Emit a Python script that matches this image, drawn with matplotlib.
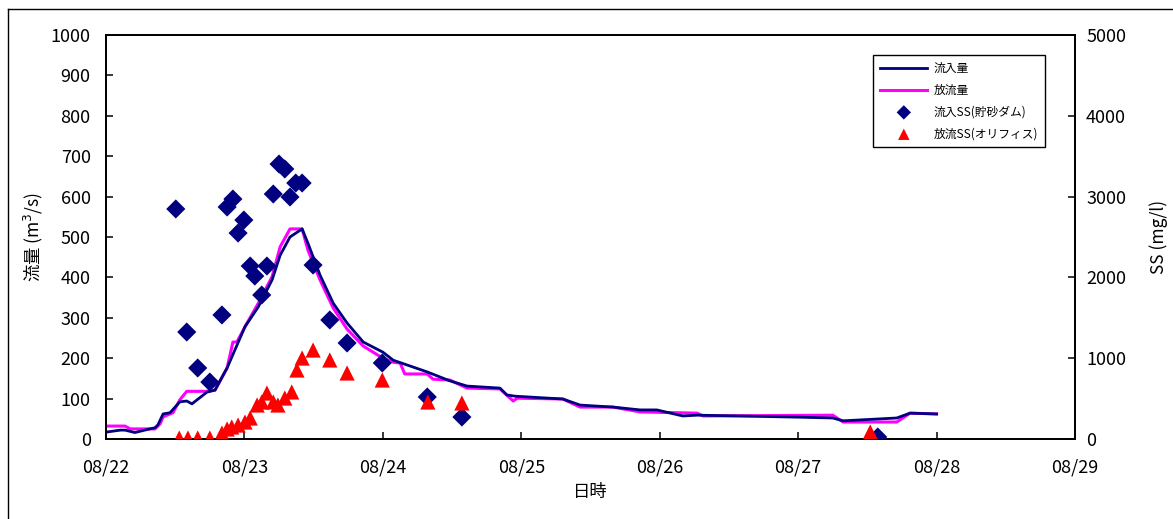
import matplotlib
matplotlib.use("Agg")
import matplotlib.pyplot as plt
from matplotlib.lines import Line2D
import numpy as np

plt.rcParams['font.family'] = ['Noto Sans CJK JP', 'DejaVu Sans']
plt.rcParams['mathtext.fontset'] = 'dejavusans'

# Date labels (x axis, one per day starting 08/22 00:00)
date_labels = ['08/22', '08/23', '08/24', '08/25', '08/26', '08/27', '08/28', '08/29']

# Inflow discharge (m3/s), hours after 08/22 00:00
inflow_hours = [0, 2.5, 3.3, 5.0, 7.6, 8.5, 9.0, 9.9, 11.1, 12.8, 14.0, 14.9, 17.5, 18.9,
                21.0, 22.7, 24.1, 26.4, 28.8, 30.2, 31.9, 34.0, 35.0, 37.1, 39.4, 41.8,
                44.6, 48.0, 49.8, 55.7, 59.6, 62.6, 68.3, 69.5, 70.9, 79.2, 82.2, 87.9,
                92.6, 95.5, 100.0, 102.5, 120.3, 126.0, 127.8, 137.1, 139.4, 144.0]
inflow_q = [17, 22, 22, 16, 25, 28, 35, 62, 65, 92, 94, 87, 116, 121,
            176, 232, 278, 327, 394, 455, 500, 520, 485, 406, 336, 287,
            240, 215, 195, 166, 144, 131, 126, 109, 106, 99, 84, 79,
            72, 72, 57, 59, 54, 52, 45, 52, 64, 62]

# Outflow discharge (m3/s)
outflow_hours = [0, 3.3, 4.2, 8.5, 9.4, 9.9, 11.6, 12.8, 14.0, 17.5, 18.9, 21.0, 22.0,
                 22.7, 24.1, 26.4, 28.8, 30.2, 31.9, 34.0, 35.0, 37.1, 39.4, 41.8, 44.6,
                 48.0, 49.8, 51.0, 51.8, 55.7, 56.7, 59.6, 62.6, 68.3, 70.6, 71.3, 79.2,
                 82.2, 87.9, 92.6, 102.5, 103.5, 126.0, 127.8, 137.1, 139.4, 144.0]
outflow_q = [32, 32, 25, 25, 38, 55, 65, 97, 118, 118, 121, 176, 240,
             240, 278, 336, 402, 476, 520, 520, 468, 394, 324, 272, 230,
             200, 190, 188, 161, 161, 148, 146, 126, 124, 94, 101, 99,
             79, 79, 67, 64, 57, 59, 42, 42, 64, 62]

# Inflow SS at the sediment dam (mg/l)
ss_in_hours = [12.1, 14.0, 15.9, 18.0, 20.1, 21.0, 22.0, 22.9, 23.9, 25.0, 25.8, 27.0,
               27.9, 29.0, 30.0, 31.0, 31.9, 32.9, 34.0, 35.9, 38.8, 41.8, 47.9, 55.7,
               61.7, 133.8]
ss_in = [2847, 1324, 879, 705, 1535, 2871, 2970, 2549, 2710, 2141, 2017, 1782,
         2141, 3032, 3403, 3342, 2995, 3168, 3168, 2153, 1473, 1188, 941, 520,
         272, 25]

# Outflow SS at the orifice (mg/l)
ss_out_hours = [12.7, 14.2, 15.9, 18.0, 20.1, 21.0, 21.8, 22.9, 24.1, 25.0, 26.2, 27.0,
                27.9, 29.0, 29.8, 31.0, 32.2, 33.1, 34.0, 35.9, 38.8, 41.8, 47.9, 55.8,
                61.7, 132.5]
ss_out = [12, 12, 12, 12, 74, 124, 149, 173, 210, 260, 421, 458,
          569, 458, 421, 507, 582, 854, 1002, 1101, 978, 817, 730, 458,
          446, 87]

fig = plt.figure(figsize=(11.73, 5.19), dpi=100)
ax = fig.add_axes([106 / 1173, 1 - 439 / 519, (1075 - 106) / 1173, (439 - 35) / 519])
ax2 = ax.twinx()

navy = '#000080'
magenta = '#FF00FF'

ln1, = ax.plot(np.array(inflow_hours) / 24, inflow_q, color=navy, lw=2.0, zorder=3)
ln2, = ax.plot(np.array(outflow_hours) / 24, outflow_q, color=magenta, lw=2.2, zorder=2)

sc1 = ax2.scatter(np.array(ss_in_hours) / 24, ss_in, marker='D', s=95, color=navy,
                  edgecolors='none', zorder=3)
sc2 = ax2.scatter(np.array(ss_out_hours) / 24, ss_out, marker='^', s=120, color='#FF0000',
                  edgecolors='none', zorder=4)

ax.set_xlim(0, 7)
ax.set_ylim(0, 1000)
ax2.set_ylim(0, 5000)
ax.set_xticks(range(len(date_labels)))
ax.set_xticklabels(date_labels)
ax.set_yticks(np.arange(0, 1001, 100))
ax2.set_yticks(np.arange(0, 5001, 1000))

for a in (ax, ax2):
    for s in a.spines.values():
        s.set_linewidth(1.3)
        s.set_color('black')

ax.tick_params(axis='x', direction='in', length=5, width=1.1, pad=14, labelsize=13)
ax.tick_params(axis='y', direction='in', length=5, width=1.1, pad=11, labelsize=13)
ax2.tick_params(axis='y', direction='in', length=5, width=1.1, pad=8, labelsize=13)

ax.set_xlabel('日時', fontsize=12.5, labelpad=5)
ax.set_ylabel('流量 (m$^3$/s)', fontsize=12.5, labelpad=4)
ax2.set_ylabel('SS (mg/l)', fontsize=12.5, labelpad=17)

leg = ax2.legend([ln1, ln2, sc1, sc2],
                 ['流入量', '放流量', '流入SS(貯砂ダム)', '放流SS(オリフィス)'],
                 loc='upper left', bbox_to_anchor=(0.788, 0.96), fontsize=8.5,
                 frameon=True, fancybox=False, edgecolor='black', framealpha=1,
                 handlelength=4.0, handletextpad=0.5, labelspacing=0.75,
                 borderpad=0.6, borderaxespad=0.3, scatterpoints=1, markerscale=0.75)
leg.get_frame().set_linewidth(1.0)

# Outer frame around the figure
fx = 8 / 1173
fy = 1 - 9 / 519
fig.add_artist(Line2D([fx, fx], [0, fy], transform=fig.transFigure, color='black', lw=1.0))
fig.add_artist(Line2D([fx, 1], [fy, fy], transform=fig.transFigure, color='black', lw=1.0))

fig.savefig('out.png', dpi=100)
